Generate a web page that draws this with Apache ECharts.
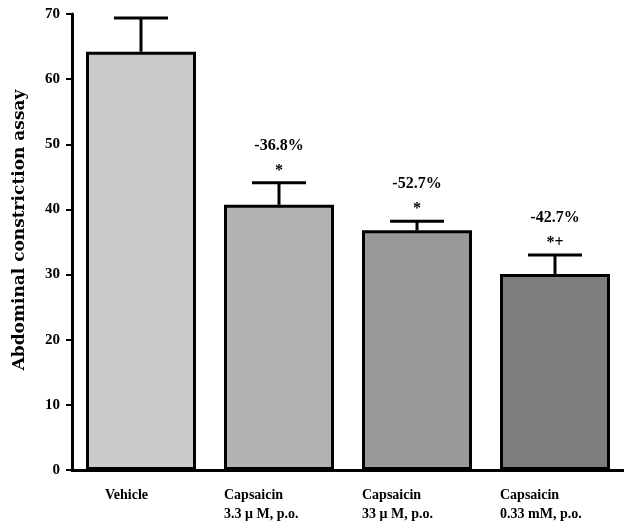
<!DOCTYPE html>
<html>
<head>
<meta charset="utf-8">
<script src="https://cdn.jsdelivr.net/npm/echarts@6/dist/echarts.min.js"></script>
<style>
html,body{margin:0;padding:0;background:#fff;}
#chart{width:624px;height:532px;}
</style>
</head>
<body>
<div id="chart"></div>
<script>
const categories = ['Vehicle', 'Capsaicin\n3.3 μ M, p.o.', 'Capsaicin\n33 μ M, p.o.', 'Capsaicin\n0.33 mM, p.o.'];
const means = [64.2, 40.7, 36.8, 30.1];
const errorTops = [69.4, 44.1, 38.2, 33.0];
const pctLabels = ['', '-36.8%', '-52.7%', '-42.7%'];
const sigLabels = ['', '*', '*', '*+'];
const barColors = ['#cbcbcb', '#b2b2b2', '#999999', '#7e7e7e'];
const yTicks = [0, 10, 20, 30, 40, 50, 60, 70];

const serif = '"Liberation Serif", "DejaVu Serif", serif';
const chart = echarts.init(document.getElementById('chart'), null, {renderer: 'canvas'});

const errData = categories.map((c, i) => [i, means[i], errorTops[i], pctLabels[i], sigLabels[i]]);

chart.setOption({
  animation: false,
  backgroundColor: '#ffffff',
  grid: {left: 72, right: 0, top: 14, bottom: 62},
  xAxis: {
    type: 'category',
    data: categories,
    axisLine: {lineStyle: {color: '#000', width: 3}},
    axisTick: {show: false},
    axisLabel: {
      margin: 16,
      formatter: function (v) {
        const lines = v.split('\n');
        const key = lines.length > 1 ? 'a' : 'v';
        return lines.map(s => '{' + key + '|' + s + '}').join('\n');
      },
      rich: {
        a: {fontFamily: serif, fontSize: 14, fontWeight: 'bold', color: '#000', width: 110, align: 'left', lineHeight: 19},
        v: {fontFamily: serif, fontSize: 14, fontWeight: 'bold', color: '#000', width: 72, align: 'left', lineHeight: 19}
      }
    }
  },
  yAxis: {
    type: 'value',
    min: yTicks[0],
    max: yTicks[yTicks.length - 1],
    interval: 10,
    name: 'Abdominal constriction assay',
    nameLocation: 'middle',
    nameGap: 44,
    nameRotate: 90,
    nameTextStyle: {fontFamily: '"DejaVu Serif", serif', fontSize: 17, fontWeight: 'bold', color: '#000', padding: [0, 0, 0, 24]},
    axisLine: {show: true, lineStyle: {color: '#000', width: 3}},
    axisTick: {show: true, length: 6, lineStyle: {color: '#000', width: 2}},
    axisLabel: {fontFamily: serif, fontSize: 15, fontWeight: 'bold', color: '#000', margin: 12},
    splitLine: {show: false}
  },
  series: [
    {
      type: 'bar',
      barWidth: 110,
      data: means.map((v, i) => ({value: v, itemStyle: {color: barColors[i]}})),
      itemStyle: {borderColor: '#000', borderWidth: 3}
    },
    {
      type: 'custom',
      data: errData,
      z: 5,
      renderItem: function (params, api) {
        const base = api.coord([api.value(0), api.value(1)]);
        const top = api.coord([api.value(0), api.value(2)]);
        const pct = api.value(3);
        const sig = api.value(4);
        const children = [
          {type: 'line', shape: {x1: base[0], y1: base[1], x2: top[0], y2: top[1]}, style: {stroke: '#000', lineWidth: 3}},
          {type: 'line', shape: {x1: top[0] - 27, y1: top[1], x2: top[0] + 27, y2: top[1]}, style: {stroke: '#000', lineWidth: 3}}
        ];
        if (sig) {
          children.push({type: 'text', x: top[0], y: top[1] - 12, style: {text: sig, fontFamily: serif, fontSize: 16, fontWeight: 'bold', fill: '#000', align: 'center', verticalAlign: 'middle'}});
        }
        if (pct) {
          children.push({type: 'text', x: top[0], y: top[1] - 37, style: {text: pct, fontFamily: serif, fontSize: 16, fontWeight: 'bold', fill: '#000', align: 'center', verticalAlign: 'middle'}});
        }
        return {type: 'group', children: children};
      }
    }
  ]
});
</script>
</body>
</html>
